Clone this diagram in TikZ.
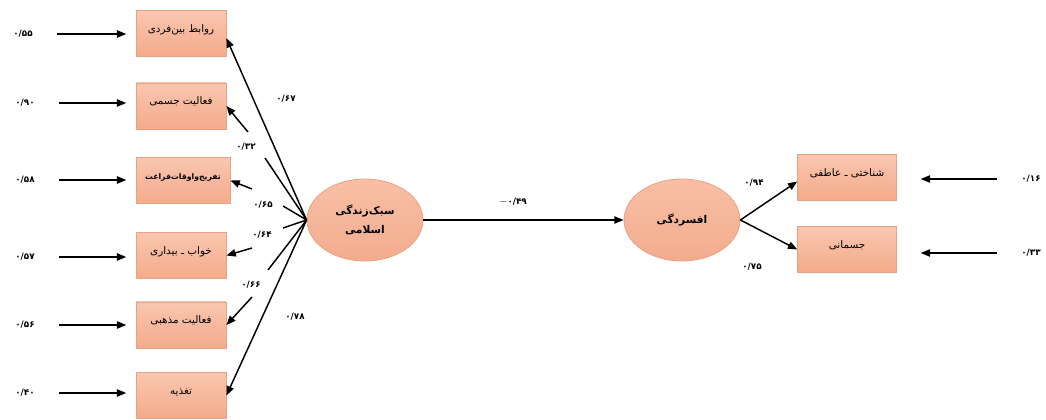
\documentclass[tikz,border=0pt]{standalone}
\usepackage{fontspec}
\usetikzlibrary{arrows.meta,shapes.geometric}
\TeXXeTstate=1
\newfontfamily\arabicfont[Script=Arabic]{DejaVu Sans}
\definecolor{boxtop}{HTML}{F9C7B0}
\definecolor{boxbot}{HTML}{F4AA8B}
\definecolor{boxline}{HTML}{E9A184}
\definecolor{elltop}{HTML}{F8BFA5}
\definecolor{ellbot}{HTML}{F3AC8D}
\tikzset{
  box/.style={draw=boxline, line width=0.6pt, top color=boxtop, bottom color=boxbot,
    minimum width=67.5pt, minimum height=34.5pt, inner sep=1pt,
    font=\arabicfont\fontsize{7.8}{9}\selectfont, text height=5.5pt, text depth=7.5pt},
  ell/.style={ellipse, draw=boxline, line width=0.6pt, top color=elltop, bottom color=ellbot,
    minimum width=87pt, minimum height=61.5pt, inner sep=0pt, align=center,
    font=\arabicfont\bfseries\fontsize{8}{14}\selectfont},
  num/.style={font=\arabicfont\bfseries\fontsize{6.6}{8}\selectfont, inner sep=1pt},
  conn/.style={line width=1.1pt, black},
  arr/.style={conn, -{Triangle[length=7pt,width=5.5pt]}}
}
\begin{document}
\begin{tikzpicture}[x=0.75pt,y=-0.75pt]
\useasboundingbox (0,0) rectangle (1046,420);

% left boxes
\node[box] (B1) at (181,33.5) {\beginR روابط بین‌فردی\endR};
\node[box] (B2) at (181,106) {\beginR فعالیت جسمی\endR};
\node[box, minimum width=70.5pt, font=\arabicfont\bfseries\fontsize{5.8}{7}\selectfont] (B3) at (183,180.5) {\beginR تفریح‌واوقات‌فراغت\endR};
\node[box] (B4) at (181,255.5) {\beginR خواب ـ بیداری\endR};
\node[box] (B5) at (181,325) {\beginR فعالیت مذهبی\endR};
\node[box] (B6) at (181,395.5) {\beginR تغذیه\endR};

% ellipses
\node[ell] (L) at (365,220) {\beginR سبک‌زندگی\endR\\\beginR اسلامی\endR};
\node[ell] (R) at (682,220) {\beginR افسردگی\endR};

% right boxes
\node[box, minimum width=74pt] (A1) at (847,177.5) {\beginR شناختی ـ عاطفی\endR};
\node[box, minimum width=74pt] (A2) at (847,249.5) {\beginR جسمانی\endR};

% left error labels
\node[num] (e1) at (23,34) {۰/۵۵};
\node[num] (e2) at (25,103) {۰/۹۰};
\node[num] (e3) at (25,180) {۰/۵۸};
\node[num] (e4) at (25,257) {۰/۵۷};
\node[num] (e5) at (25,325) {۰/۵۶};
\node[num] (e6) at (25,393) {۰/۴۰};
\foreach \i in {1,...,6}{
  \draw[arr, shorten <=17pt, shorten >=7pt] (e\i.east) -- (e\i.east -| B\i.west);
}

% right error labels
\node[num] (f1) at (1031,179) {۰/۱۶};
\node[num] (f2) at (1031,253) {۰/۳۳};
\draw[arr, shorten <=17pt, shorten >=18pt] (f1.west) -- (f1.west -| A1.east);
\draw[arr, shorten <=17pt, shorten >=18pt] (f2.west) -- (f2.west -| A2.east);

% fan from left ellipse
\coordinate (s2) at (265,158);
\coordinate (t2) at (248,132);
\coordinate (s3) at (283,206);
\coordinate (t3) at (252,189);
\coordinate (s4) at (283,228);
\coordinate (t4) at (252,248);
\coordinate (s5) at (268,270);
\coordinate (t5) at (252,297);
\draw[arr] (L.west) -- ([yshift=-3.5pt]B1.east);
\draw[conn] (L.west) -- (s2);
\draw[arr] (t2) -- (B2.east);
\draw[conn] (L.west) -- (s3);
\draw[arr] (t3) -- (B3.east);
\draw[conn] (L.west) -- (s4);
\draw[arr] (t4) -- (B4.east);
\draw[conn] (L.west) -- (s5);
\draw[arr] (t5) -- (B5.east);
\draw[arr] (L.west) -- (B6.east);

\node[num] (l1) at (286,99) {۰/۶۷};
\node[num] (l2) at (246,147) {۰/۳۲};
\node[num] (l3) at (263,205) {۰/۶۵};
\node[num] (l4) at (262,235) {۰/۶۴};
\node[num] (l5) at (251,285) {۰/۶۶};
\node[num] (l6) at (295,317) {۰/۷۸};

% main path
\draw[arr] (L.east) -- (R.west);
\node[num] (m) at (513,202) {\hbox{$-$}\hbox{۰/۴۹}};

% right fan
\draw[arr] (R.east) -- ([yshift=-3pt]A1.west);
\draw[arr] (R.east) -- (A2.west);
\node[num] (r1) at (754,183) {۰/۹۴};
\node[num] (r2) at (752,267) {۰/۷۵};
\end{tikzpicture}
\end{document}
